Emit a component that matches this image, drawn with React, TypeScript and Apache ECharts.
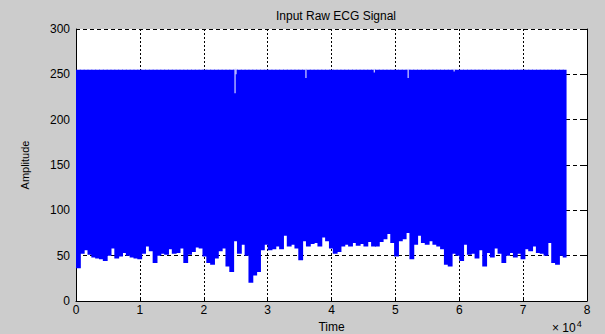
import React, { useEffect, useRef } from "react";
import * as echarts from "echarts";

// Signal summarised per bin of samples: the lower envelope (minimum) of each bin; upper level is the clipping value.
const SAMPLES_PER_BIN = 600;
const UPPER_LEVEL = 255;
const lowEnvelope = [
  36, 52, 56, 51, 48, 47, 46, 44, 50, 58, 47, 49, 53, 50, 48, 47, 46, 52, 60, 55, 42, 50, 52, 51, 57, 52,
  53, 58, 42, 51, 54, 59, 58, 49, 42, 40, 47, 55, 58, 38, 32, 66, 52, 62, 50, 20, 28, 32, 56, 62, 56, 57,
  60, 57, 72, 60, 62, 58, 45, 66, 60, 63, 64, 60, 70, 66, 58, 52, 54, 60, 62, 60, 64, 61, 63, 60, 65, 60,
  60, 65, 68, 74, 64, 49, 66, 68, 75, 46, 62, 72, 64, 62, 66, 62, 60, 57, 40, 38, 52, 50, 44, 62, 51, 52,
  47, 56, 38, 53, 48, 58, 52, 42, 50, 53, 48, 52, 46, 57, 55, 60, 53, 52, 50, 64, 42, 40, 50, 48,
];
// Isolated samples where the maximum drops below the clipping level
const topDipSamples = [24900, 25050, 36000, 46700, 52000, 59200];
const topDipValues = [229, 250, 246, 252, 246, 253];

const xTicks = [0, 1, 2, 3, 4, 5, 6, 7, 8];
const yTicks = [0, 50, 100, 150, 200, 250, 300];

export default function App() {
  const ref = useRef<HTMLDivElement>(null);
  useEffect(() => {
    if (!ref.current) return;
    const chart = echarts.init(ref.current, null, { renderer: "svg" });
    const bins = lowEnvelope.map((v, i) => [i * SAMPLES_PER_BIN, (i + 1) * SAMPLES_PER_BIN, v, UPPER_LEVEL]);
    const dips = topDipSamples.map((s, i) => [s, topDipValues[i], UPPER_LEVEL]);
    const font = "'Liberation Sans', Arial, Helvetica, sans-serif";
    const lastBin = lowEnvelope.length - 1;
    chart.setOption({
      animation: false,
      backgroundColor: "#cccccc",
      textStyle: { fontFamily: font },
      title: {
        text: "Input Raw ECG Signal",
        left: 331,
        top: 5,
        textAlign: "center",
        textStyle: { fontSize: 12, fontWeight: "normal", color: "#000", fontFamily: font },
      },
      grid: {
        left: 76,
        top: 29,
        width: 511,
        height: 272,
        show: true,
        backgroundColor: "#ffffff",
        borderWidth: 0,
        containLabel: false,
        outerBoundsMode: "none",
      },
      xAxis: {
        type: "value",
        min: xTicks[0] * 10000,
        max: xTicks[xTicks.length - 1] * 10000,
        interval: 10000,
        name: "Time",
        nameLocation: "middle",
        nameGap: 11,
        nameTextStyle: { fontSize: 12, color: "#000", fontFamily: font },
        axisLine: { show: true, lineStyle: { color: "#000", width: 1 } },
        axisTick: { show: true, inside: true, length: 4, lineStyle: { color: "#000" } },
        axisLabel: {
          margin: 3,
          fontSize: 12,
          color: "#000",
          fontFamily: font,
          formatter: (v: number) => String(v / 10000),
        },
        splitLine: { show: true, lineStyle: { color: "#000", type: [2, 2], width: 1 } },
      },
      yAxis: [
        {
          type: "value",
          min: yTicks[0],
          max: yTicks[yTicks.length - 1],
          interval: 50,
          name: "Amplitude",
          nameLocation: "middle",
          nameGap: 46,
          nameTextStyle: { fontSize: 11, color: "#000", fontFamily: font },
          axisLine: { show: true, lineStyle: { color: "#000", width: 1 } },
          axisTick: { show: true, inside: true, length: 4, lineStyle: { color: "#000" } },
          axisLabel: { margin: 6, fontSize: 12, color: "#000", fontFamily: font },
          splitLine: { show: true, lineStyle: { color: "#000", type: [4, 3], width: 1 } },
        },
        {
          type: "value",
          position: "right",
          min: yTicks[0],
          max: yTicks[yTicks.length - 1],
          interval: 50,
          axisLine: { show: true, lineStyle: { color: "#000", width: 1 } },
          axisTick: { show: true, inside: true, length: 4, lineStyle: { color: "#000" } },
          axisLabel: { show: false },
          splitLine: { show: false },
        },
      ],
      graphic: [
        {
          type: "text",
          left: 552,
          top: 319,
          style: {
            text: "× 10{sup|4}",
            fontSize: 12,
            fill: "#000",
            fontFamily: font,
            rich: { sup: { fontSize: 9, verticalAlign: "top", padding: [0, 0, 8, 1], fill: "#000" } },
          },
        },
      ],
      series: [
        {
          type: "custom",
          xAxisIndex: 0,
          yAxisIndex: 0,
          clip: true,
          data: bins,
          renderItem: (params: any, api: any) => {
            const p0 = api.coord([api.value(0), api.value(2)]);
            const p1 = api.coord([api.value(1), api.value(3)]);
            const extra = params.dataIndex === lastBin ? 0 : 1;
            return {
              type: "rect",
              shape: { x: p0[0], y: p1[1], width: p1[0] - p0[0] + extra, height: p0[1] - p1[1] },
              style: { fill: "#0000ff", stroke: null },
            };
          },
          z: 3,
        },
        {
          type: "custom",
          xAxisIndex: 0,
          yAxisIndex: 0,
          data: dips,
          renderItem: (params: any, api: any) => {
            const a = api.coord([api.value(0), api.value(1)]);
            const b = api.coord([api.value(0), api.value(2)]);
            return {
              type: "line",
              shape: { x1: a[0], y1: a[1], x2: b[0], y2: b[1] - 1 },
              style: { stroke: "#d4d4ff", lineWidth: 1.2 },
            };
          },
          z: 4,
        },
      ],
    });
    return () => chart.dispose();
  }, []);
  return (
    <div
      ref={ref}
      style={{ position: "absolute", left: 0, top: 0, width: 605, height: 334 }}
    />
  );
}
